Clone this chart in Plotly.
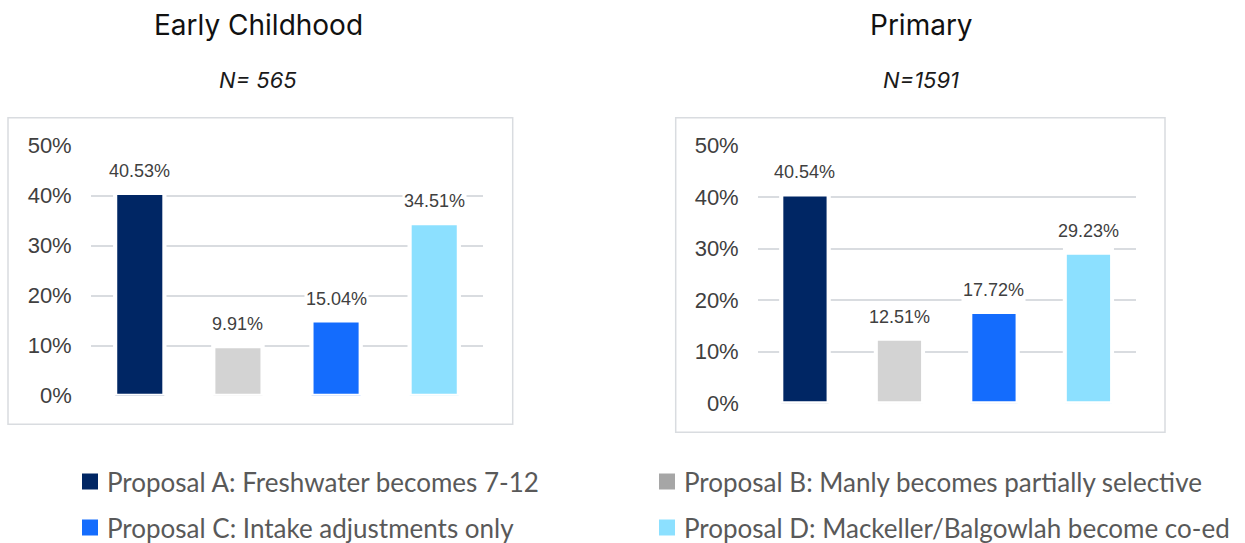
import plotly.graph_objects as go

# ---- data ----
proposals = ["Proposal A", "Proposal B", "Proposal C", "Proposal D"]
legend_labels = [
    "Proposal A: Freshwater becomes 7-12",
    "Proposal B: Manly becomes partially selective",
    "Proposal C: Intake adjustments only",
    "Proposal D: Mackeller/Balgowlah become co-ed",
]
early_childhood = [40.53, 9.91, 15.04, 34.51]
primary = [40.54, 12.51, 17.72, 29.23]
panel_titles = ["Early Childhood", "Primary"]
panel_counts = ["N= 565", "N=1591"]
y_ticks = [0, 10, 20, 30, 40, 50]

# ---- styling ----
bar_colors = ["#002664", "#D3D3D3", "#146CFD", "#8CE0FF"]
legend_colors = ["#002664", "#A6A6A6", "#146CFD", "#8CE0FF"]
W, H = 1245, 543


def px(x):
    return x / W


def py(y):
    return 1 - y / H


fig = go.Figure()

panels = [
    dict(values=early_childhood, xa="x", ya="y",
         xdom=[px(90.7), px(483.3)], ydom=[py(395.7), py(145.7)],
         box=(8, 117.7, 512.7, 424.3), cx=258),
    dict(values=primary, xa="x2", ya="y2",
         xdom=[px(757.7), px(1135.7)], ydom=[py(403.3), py(145.7)],
         box=(675.7, 117.7, 1165, 432.3), cx=921),
]

annotations = []
shapes = []

for i, p in enumerate(panels):
    vals = p["values"]
    # white backing column that interrupts the gridlines under each label
    fig.add_trace(go.Bar(
        x=proposals, y=[v + 4.5 for v in vals], width=0.54,
        marker=dict(color="white", line=dict(width=0)),
        xaxis=p["xa"], yaxis=p["ya"], hoverinfo="skip", showlegend=False,
    ))
    fig.add_trace(go.Bar(
        x=proposals, y=vals, width=0.5,
        marker=dict(color=bar_colors, line=dict(color="white", width=4)),
        xaxis=p["xa"], yaxis=p["ya"], showlegend=False,
    ))
    for cat, v in zip(proposals, vals):
        annotations.append(dict(
            x=cat, y=v, xref=p["xa"], yref=p["ya"],
            text=f"{v:.2f}%", showarrow=False, yshift=22, yanchor="middle",
            bgcolor="white", borderpad=1,
            font=dict(family="Liberation Sans, Arial, sans-serif", size=18, color="#404040"),
        ))
    # panel frame
    x0, y0, x1, y1 = p["box"]
    shapes.append(dict(type="rect", xref="paper", yref="paper",
                       x0=px(x0), x1=px(x1), y0=py(y1), y1=py(y0),
                       line=dict(color="#D9DCE0", width=1.5), layer="below"))
    # titles
    annotations.append(dict(
        x=px(p["cx"]), y=py(25), xref="paper", yref="paper", xanchor="center", yanchor="middle",
        text=panel_titles[i], showarrow=False,
        font=dict(family="Inter, sans-serif", size=28, color="#111111"),
    ))
    annotations.append(dict(
        x=px(p["cx"]), y=py(80), xref="paper", yref="paper", xanchor="center", yanchor="middle",
        text=f"<i>{panel_counts[i]}</i>", showarrow=False,
        font=dict(family="Inter, sans-serif", size=22, color="#1a1a1a"),
    ))

# legend drawn as coloured squares with labels in a 2x2 grid
legend_pos = [(82, 481.5), (659, 481.5), (82, 527.5), (659, 527.5)]
for label, color, (lx, ly) in zip(legend_labels, legend_colors, legend_pos):
    shapes.append(dict(type="rect", xref="paper", yref="paper",
                       x0=px(lx), x1=px(lx + 16), y0=py(ly + 8), y1=py(ly - 8),
                       fillcolor=color, line=dict(width=0)))
    annotations.append(dict(
        x=px(lx + 23), y=py(ly), xref="paper", yref="paper", xanchor="left", yanchor="middle",
        text=label, showarrow=False,
        font=dict(family="Lato, Calibri, sans-serif", size=26, color="#595959"),
    ))

axis_common_y = dict(
    range=[0, 50], tickvals=y_ticks, ticktext=[f"{t}%" for t in y_ticks],
    showgrid=True, gridcolor="#D9DCE0", gridwidth=1.5, zeroline=False,
    showline=False, ticks="", ticklabelstandoff=18, automargin=False,
    tickfont=dict(family="Liberation Sans, Arial, sans-serif", size=22, color="#404040"),
)
axis_common_x = dict(
    range=[-0.5, 3.5], showticklabels=False, showgrid=False, zeroline=False,
    showline=False, ticks="", automargin=False,
)

fig.update_layout(
    width=W, height=H,
    margin=dict(l=0, r=0, t=0, b=0, pad=0, autoexpand=False),
    paper_bgcolor="white", plot_bgcolor="rgba(0,0,0,0)",
    barmode="overlay", showlegend=False,
    xaxis=dict(domain=panels[0]["xdom"], anchor="y", **axis_common_x),
    yaxis=dict(domain=panels[0]["ydom"], anchor="x", **axis_common_y),
    xaxis2=dict(domain=panels[1]["xdom"], anchor="y2", **axis_common_x),
    yaxis2=dict(domain=panels[1]["ydom"], anchor="x2", **axis_common_y),
    annotations=annotations,
    shapes=shapes,
)

fig.write_html("out.html")
